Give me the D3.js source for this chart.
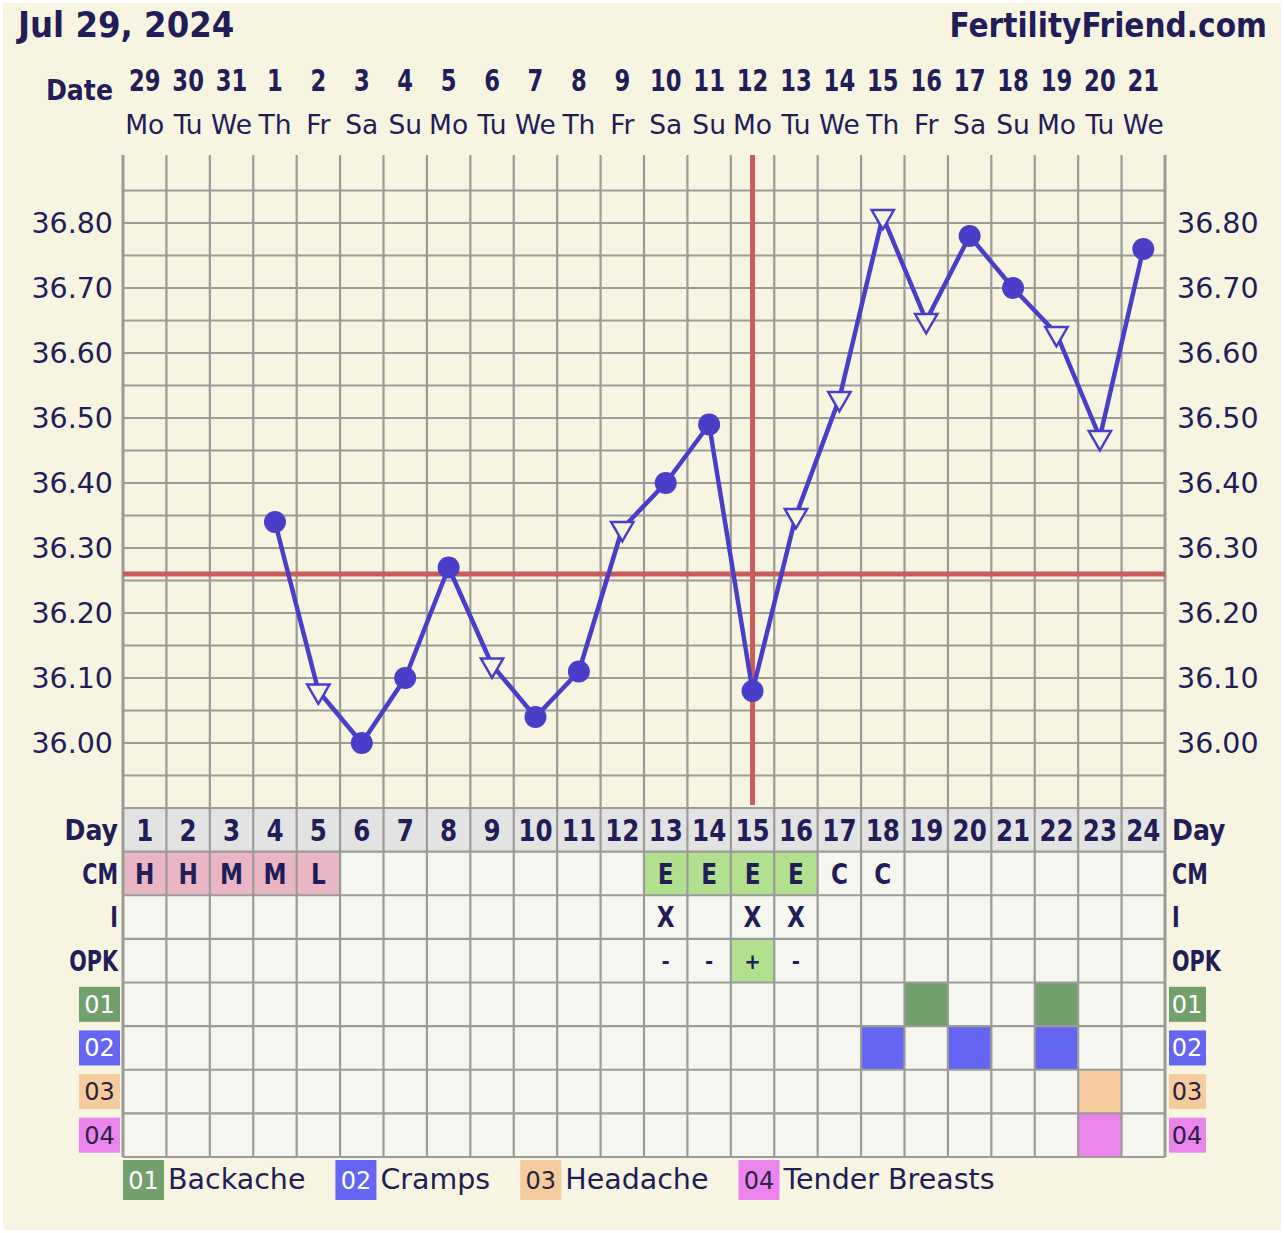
<!DOCTYPE html>
<html>
<head>
<meta charset="utf-8">
<script src="https://cdn.jsdelivr.net/npm/d3@7"></script>
<style>
  html, body { margin: 0; padding: 0; background: #ffffff; }
  svg { display: block; }
</style>
</head>
<body>
<svg id="chart" width="1284" height="1233"></svg>
<script>
// chart data
var cycleDays = [1, 2, 3, 4, 5, 6, 7, 8, 9, 10, 11, 12, 13, 14, 15, 16, 17, 18, 19, 20, 21, 22, 23, 24];
var dates = ["29", "30", "31", "1", "2", "3", "4", "5", "6", "7", "8", "9", "10", "11", "12", "13", "14", "15", "16", "17", "18", "19", "20", "21"];
var weekdays = ["Mo", "Tu", "We", "Th", "Fr", "Sa", "Su", "Mo", "Tu", "We", "Th", "Fr", "Sa", "Su", "Mo", "Tu", "We", "Th", "Fr", "Sa", "Su", "Mo", "Tu", "We"];
var temps = [null, null, null, 36.34, 36.08, 36.00, 36.10, 36.27, 36.12, 36.04, 36.11, 36.33, 36.40, 36.49, 36.08, 36.35, 36.53, 36.81, 36.65, 36.78, 36.70, 36.63, 36.47, 36.76];
var openDays = [5, 9, 12, 16, 17, 18, 19, 22, 23];   // triangle markers
var tempTicks = [36.00, 36.10, 36.20, 36.30, 36.40, 36.50, 36.60, 36.70, 36.80];
var coverline = 36.26;
var ovulationDay = 15;
var cervicalMucus = ["H", "H", "M", "M", "L", "", "", "", "", "", "", "", "E", "E", "E", "E", "C", "C", "", "", "", "", "", ""];
var intercourse = ["", "", "", "", "", "", "", "", "", "", "", "", "X", "", "X", "X", "", "", "", "", "", "", "", ""];
var opk = ["", "", "", "", "", "", "", "", "", "", "", "", "-", "-", "+", "-", "", "", "", "", "", "", "", ""];
var symptomCodes = ["01", "02", "03", "04"];
var symptomNames = ["Backache", "Cramps", "Headache", "Tender Breasts"];
var symptomDays = [[19, 22], [18, 20, 22], [23], [23]];

(function() {
  var navy = "#221d58";
  var lineColor = "#4a3ec8";
  var redColor = "#c95c5c";
  var gridColor = "#9b9b98";
  var pageBg = "#f7f4e1";
  var cellBg = "#f6f6f0";
  var dayRowBg = "#e3e3e3";
  var symptomColors = ["#72a06b", "#6565f3", "#f6cc9f", "#ec84ee"];
  var symptomText = ["#ffffff", "#ffffff", "#2a2440", "#2a2440"];
  var cmColors = {H: "#e8b6c5", M: "#e8b6c5", L: "#e8b6c5", E: "#b1e18e"};

  var condensed = "'DejaVu Sans Condensed', 'DejaVu Sans', sans-serif";
  var regular = "'DejaVu Sans', Verdana, sans-serif";

  var svg = d3.select("#chart");
  var left = 123, right = 1165, chartTop = 158, chartBottom = 808, tableBottom = 1157;

  var x = d3.scaleBand().domain(cycleDays).range([left, right]);
  var y = d3.scaleLinear().domain([35.90, 36.90]).range([chartBottom, chartTop]);
  var rowKeys = ["Day", "CM", "I", "OPK"].concat(symptomCodes);
  var row = d3.scaleBand().domain(rowKeys).range([chartBottom, tableBottom]);
  var cx = function(d) { return x(d) + x.bandwidth() / 2; };

  svg.append("rect").attr("x", 3).attr("y", 3).attr("width", 1278).attr("height", 1227).attr("fill", pageBg);

  // squeezed text helper
  function label(g, str, px, py, size, opts) {
    opts = opts || {};
    return g.append("text")
      .attr("transform", "translate(" + px + "," + py + ") scale(" + (opts.sx || 1) + ",1)")
      .attr("text-anchor", opts.anchor || "middle")
      .attr("font-family", opts.family || condensed)
      .attr("font-weight", opts.weight || "bold")
      .attr("font-size", size)
      .attr("fill", opts.fill || navy)
      .text(str);
  }

  // header
  var head = svg.append("g");
  label(head, "Jul 29, 2024", 18, 37, 36, {anchor: "start", sx: 1.0});
  label(head, "FertilityFriend.com", 1267, 37, 34, {anchor: "end", sx: 0.97});
  label(head, "Date", 113, 100, 28, {anchor: "end"});
  cycleDays.forEach(function(d, i) {
    label(head, dates[i], cx(d), 91, 30, {sx: 0.84});
    label(head, weekdays[i], cx(d), 134, 26.5, {family: regular, weight: "normal"});
  });

  // table cells
  var table = svg.append("g");
  rowKeys.forEach(function(k, r) {
    cycleDays.forEach(function(d, i) {
      var fill = r === 0 ? dayRowBg : cellBg;
      if (k === "CM" && cmColors[cervicalMucus[i]]) fill = cmColors[cervicalMucus[i]];
      if (k === "OPK" && opk[i] === "+") fill = "#b1e18e";
      var si = symptomCodes.indexOf(k);
      if (si >= 0 && symptomDays[si].indexOf(d) >= 0) fill = symptomColors[si];
      table.append("rect")
        .attr("x", x(d)).attr("y", row(k))
        .attr("width", x.bandwidth()).attr("height", row.bandwidth())
        .attr("fill", fill);
    });
  });

  // grid
  var grid = svg.append("g").attr("stroke", gridColor).attr("stroke-width", 2.2);
  grid.selectAll("line.h")
    .data(y.ticks(20).filter(function(t) { return t > 35.91 && t < 36.89; }))
    .enter().append("line")
    .attr("x1", left).attr("x2", right)
    .attr("y1", function(t) { return y(t); }).attr("y2", function(t) { return y(t); });
  grid.selectAll("line.r")
    .data(rowKeys.map(function(k) { return row(k); }).concat([tableBottom]))
    .enter().append("line")
    .attr("x1", left).attr("x2", right)
    .attr("y1", function(v) { return v; }).attr("y2", function(v) { return v; });
  grid.selectAll("line.v")
    .data(cycleDays.map(function(d) { return x(d); }).concat([right]))
    .enter().append("line")
    .attr("x1", function(v) { return v; }).attr("x2", function(v) { return v; })
    .attr("y1", 155).attr("y2", tableBottom)
    .attr("stroke-width", function(v, i) { return (i === 0 || i === 24) ? 3 : 2.2; });

  // table text
  var ttext = svg.append("g");
  cycleDays.forEach(function(d, i) {
    label(ttext, d, cx(d), row("Day") + 33, 31, {sx: 0.88});
    if (cervicalMucus[i]) label(ttext, cervicalMucus[i], cx(d), row("CM") + 32, 28, {sx: 0.92});
    if (intercourse[i]) label(ttext, intercourse[i], cx(d), row("I") + 32, 28, {sx: 0.92});
    if (opk[i]) label(ttext, opk[i], cx(d), row("OPK") + 30, 22);
  });
  ["Day", "CM", "I", "OPK"].forEach(function(k) {
    var sx = k === "Day" ? 1 : 0.82;
    label(ttext, k, 118, row(k) + 32, 28, {anchor: "end", sx: sx});
    label(ttext, k, 1172, row(k) + 32, 28, {anchor: "start", sx: sx});
  });
  symptomCodes.forEach(function(c, i) {
    var ry = row(c) + (row.bandwidth() - 35) / 2;
    ttext.append("rect").attr("x", 79).attr("y", ry).attr("width", 41).attr("height", 35).attr("fill", symptomColors[i]);
    label(ttext, c, 99.5, ry + 26, 24, {family: regular, weight: "normal", fill: symptomText[i]});
    ttext.append("rect").attr("x", 1169).attr("y", ry).attr("width", 37).attr("height", 35).attr("fill", symptomColors[i]);
    label(ttext, c, 1187, ry + 26, 24, {family: regular, weight: "normal", fill: symptomText[i]});
  });

  // temperature axes
  var axisL = svg.append("g").attr("transform", "translate(" + left + ",0)")
    .call(d3.axisLeft(y).tickValues(tempTicks).tickFormat(d3.format(".2f")).tickSize(0).tickPadding(10));
  var axisR = svg.append("g").attr("transform", "translate(" + right + ",0)")
    .call(d3.axisRight(y).tickValues(tempTicks).tickFormat(d3.format(".2f")).tickSize(0).tickPadding(12));
  [axisL, axisR].forEach(function(a) {
    a.select(".domain").remove();
    a.selectAll("text").attr("font-family", regular).attr("font-size", 28.5).attr("fill", navy);
  });

  // coverline + ovulation line
  svg.append("line")
    .attr("x1", left).attr("x2", right).attr("y1", y(coverline)).attr("y2", y(coverline))
    .attr("stroke", redColor).attr("stroke-width", 5);
  svg.append("line")
    .attr("x1", cx(ovulationDay)).attr("x2", cx(ovulationDay)).attr("y1", 155).attr("y2", 805)
    .attr("stroke", redColor).attr("stroke-width", 5);

  // temperatures
  var points = cycleDays.map(function(d, i) { return {day: d, t: temps[i]}; })
    .filter(function(p) { return p.t !== null; });
  svg.append("path")
    .datum(points)
    .attr("fill", "none").attr("stroke", lineColor).attr("stroke-width", 4.5).attr("stroke-linejoin", "round")
    .attr("d", d3.line().x(function(p) { return cx(p.day); }).y(function(p) { return y(p.t); }));
  svg.selectAll("circle.temp")
    .data(points.filter(function(p) { return openDays.indexOf(p.day) < 0; }))
    .enter().append("circle")
    .attr("cx", function(p) { return cx(p.day); }).attr("cy", function(p) { return y(p.t); })
    .attr("r", 11).attr("fill", lineColor);
  svg.selectAll("path.tri")
    .data(points.filter(function(p) { return openDays.indexOf(p.day) >= 0; }))
    .enter().append("path")
    .attr("d", d3.symbol().type(d3.symbolTriangle).size(215))
    .attr("transform", function(p) { return "translate(" + cx(p.day) + "," + y(p.t) + ") rotate(180)"; })
    .attr("fill", pageBg).attr("stroke", lineColor).attr("stroke-width", 2.5);

  // legend
  var legend = svg.append("g");
  var lx = left;
  symptomCodes.forEach(function(c, i) {
    legend.append("rect").attr("x", lx).attr("y", 1160).attr("width", 41).attr("height", 40).attr("fill", symptomColors[i]);
    label(legend, c, lx + 20.5, 1189, 24, {family: regular, weight: "normal", fill: symptomText[i]});
    var t = label(legend, symptomNames[i], lx + 45, 1189, 28.5, {family: regular, weight: "normal", anchor: "start"});
    lx = lx + 45 + t.node().getComputedTextLength() + 30;
  });
})();
</script>
</body>
</html>
